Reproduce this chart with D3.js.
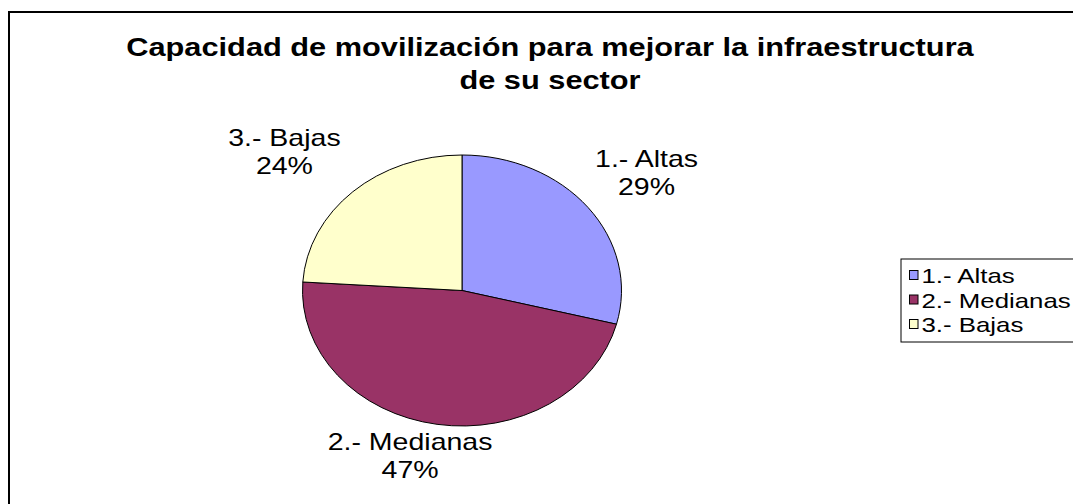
<!DOCTYPE html>
<html>
<head>
<meta charset="utf-8">
<script src="https://cdn.jsdelivr.net/npm/d3@7"></script>
<style>
  html, body { margin: 0; padding: 0; background: #fff; }
  svg { display: block; }
  text { font-family: "Liberation Sans", Arial, sans-serif; fill: #000; }
</style>
</head>
<body>
<svg id="chart" width="1073" height="504"></svg>
<script>
// ---- data ----
const categories = ["1.- Altas", "2.- Medianas", "3.- Bajas"];
const values = [29, 47, 24];
const percentLabels = ["29%", "47%", "24%"];
const titleLines = ["Capacidad de movilización para mejorar la infraestructura", "de su sector"];

// ---- layout / style ----
const W = 1073, H = 504;
const colors = ["#9999FF", "#993366", "#FFFFCC"];
const pieC = { x: 462, y: 290.5 }, rx = 159.5, ry = 135.5;
const labelFont = 23, textScaleX = 1.24;
const legendFont = 21, legendScaleX = 1.23;
const titleFont = 25, titleScaleX = 1.23;
const labelNudge = { "1.- Altas": [58.5, -40.5], "2.- Medianas": [-27, 25.7], "3.- Bajas": [-68.4, -45.7] };
const labelLineGap = 28;

const svg = d3.select("#chart");

// outer chart border (extends beyond right/bottom edges)
svg.append("rect").attr("x", 9).attr("y", 12).attr("width", W + 50).attr("height", H + 50)
  .attr("fill", "#fff").attr("stroke", "#000").attr("stroke-width", 2);

// title
const titleBase = [55.5, 89];
titleLines.forEach((t, i) => {
  svg.append("g").attr("transform", `translate(550,${titleBase[i]}) scale(${titleScaleX},1)`)
    .append("text").attr("text-anchor", "middle").attr("font-size", titleFont).attr("font-weight", "bold").text(t);
});

// pie
const pie = d3.pie().sort(null).value(d => d.v).startAngle(0).endAngle(2 * Math.PI);
const data = categories.map((c, i) => ({ c, v: values[i], p: percentLabels[i], col: colors[i] }));
const arcs = pie(data);
const R = 100;
const arc = d3.arc().innerRadius(0).outerRadius(R);
const pg = svg.append("g").attr("transform", `translate(${pieC.x},${pieC.y}) scale(${rx / R},${ry / R})`);
pg.selectAll("path").data(arcs).join("path")
  .attr("d", arc).attr("fill", d => d.data.col)
  .attr("stroke", "#000").attr("stroke-width", 1).attr("vector-effect", "non-scaling-stroke")
  .attr("stroke-linejoin", "round");

// data labels
arcs.forEach(a => {
  const mid = (a.startAngle + a.endAngle) / 2;
  const px = pieC.x + rx * Math.sin(mid), py = pieC.y - ry * Math.cos(mid);
  const n = labelNudge[a.data.c];
  const lx = px + n[0], ly = py + n[1];
  [a.data.c, a.data.p].forEach((t, j) => {
    svg.append("g").attr("transform", `translate(${lx},${ly + j * labelLineGap}) scale(${textScaleX},1)`)
      .append("text").attr("text-anchor", "middle").attr("font-size", labelFont).text(t);
  });
});

// legend
const lgX = 901, lgY = 259, lgStep = 24.5, lgBase = 283;
svg.append("rect").attr("x", lgX).attr("y", lgY).attr("width", 220).attr("height", 83)
  .attr("fill", "#fff").attr("stroke", "#000").attr("stroke-width", 1);
data.forEach((d, i) => {
  const by = lgBase + i * lgStep;
  svg.append("rect").attr("x", 909.5).attr("y", by - 12.5).attr("width", 8.5).attr("height", 9)
    .attr("fill", d.col).attr("stroke", "#000").attr("stroke-width", 1);
  svg.append("g").attr("transform", `translate(921.5,${by}) scale(${legendScaleX},1)`)
    .append("text").attr("font-size", legendFont).text(d.c);
});
</script>
</body>
</html>
